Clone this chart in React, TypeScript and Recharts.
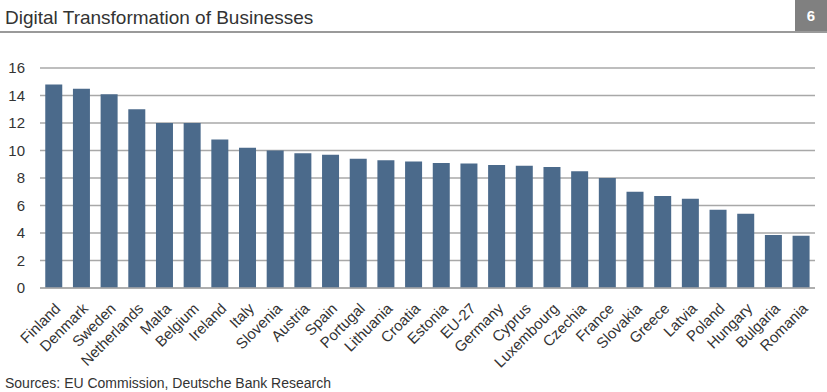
import { BarChart, Bar, XAxis, YAxis, CartesianGrid } from "recharts";

const countries = [
  "Finland", "Denmark", "Sweden", "Netherlands", "Malta", "Belgium", "Ireland",
  "Italy", "Slovenia", "Austria", "Spain", "Portugal", "Lithuania", "Croatia",
  "Estonia", "EU-27", "Germany", "Cyprus", "Luxembourg", "Czechia", "France",
  "Slovakia", "Greece", "Latvia", "Poland", "Hungary", "Bulgaria", "Romania",
];

const scores = [
  14.8, 14.5, 14.1, 13.0, 12.0, 12.0, 10.8,
  10.2, 10.0, 9.8, 9.7, 9.4, 9.3, 9.2,
  9.1, 9.05, 8.95, 8.9, 8.8, 8.5, 8.0,
  7.0, 6.7, 6.5, 5.7, 5.4, 3.85, 3.8,
];

const yTicks = [0, 2, 4, 6, 8, 10, 12, 14, 16];

const data = countries.map((c, i) => ({ country: c, value: scores[i] }));

const FONT = "'Liberation Sans', Arial, sans-serif";

export default function App() {
  return (
    <div style={{ position: "absolute", left: 0, top: 0, width: 827, height: 392, background: "#fff", fontFamily: FONT }}>
      <div style={{ position: "absolute", left: 5, top: 7, fontSize: 19, color: "#333", whiteSpace: "nowrap" }}>
        Digital Transformation of Businesses
      </div>
      <div style={{ position: "absolute", left: 0, top: 31, width: 827, height: 2, background: "#9a9a9a" }} />
      <div
        style={{
          position: "absolute", left: 795, top: 0, width: 32, height: 31, background: "#808080",
          color: "#fff", fontWeight: "bold", fontSize: 15, textAlign: "center", lineHeight: "31px",
        }}
      >
        6
      </div>

      <div style={{ position: "absolute", left: 0, top: 0 }}>
        <BarChart width={827} height={392} data={data} margin={{ top: 68, right: 12, left: 0, bottom: 0 }} barCategoryGap="19%">
          <CartesianGrid vertical={false} stroke="#a8a8a8" strokeWidth={1.5} />
          <XAxis
            dataKey="country"
            interval={0}
            height={104}
            angle={-45}
            textAnchor="end"
            tickLine={false}
            tickMargin={8}
            axisLine={{ stroke: "#a8a8a8", strokeWidth: 1.5 }}
            tick={{ fontSize: 15, fill: "#333", fontFamily: FONT }}
          />
          <YAxis
            width={40}
            domain={[0, 16]}
            ticks={yTicks}
            tickLine={false}
            axisLine={false}
            tickMargin={9}
            tick={{ fontSize: 15, fill: "#333", fontFamily: FONT }}
          />
          <Bar dataKey="value" fill="#4b6a8b" isAnimationActive={false} />
        </BarChart>
      </div>

      <div style={{ position: "absolute", left: 5, top: 375, fontSize: 14, color: "#333", whiteSpace: "nowrap" }}>
        Sources: EU Commission, Deutsche Bank Research
      </div>
    </div>
  );
}
